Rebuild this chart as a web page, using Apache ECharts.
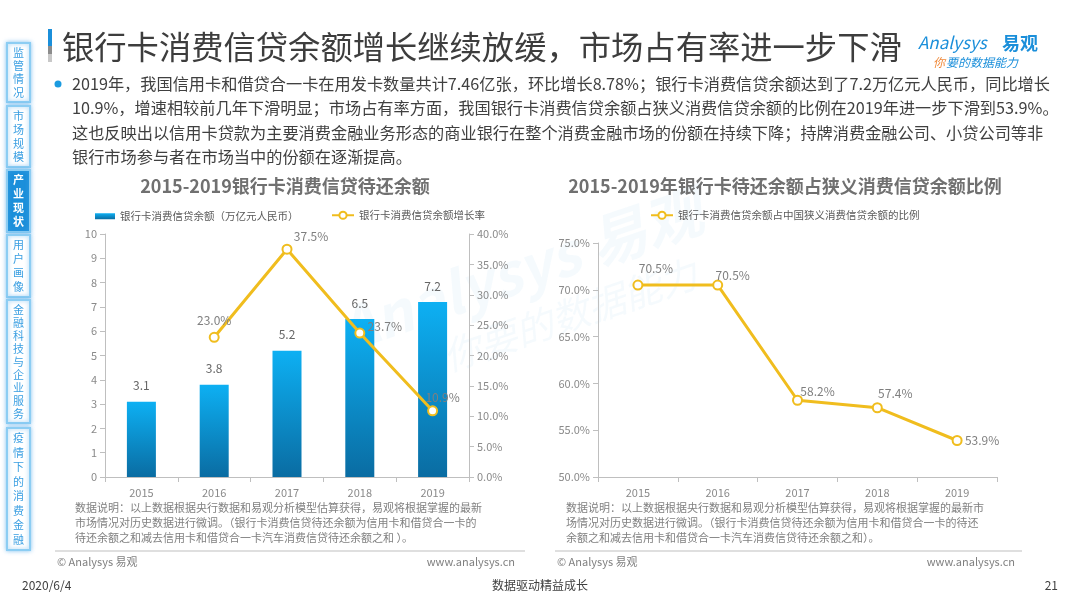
<!DOCTYPE html>
<html>
<head>
<meta charset="utf-8">
<script src="https://cdn.jsdelivr.net/npm/echarts@6/dist/echarts.min.js"></script>
<style>
html,body{margin:0;padding:0;background:#fff;}
#c{width:1080px;height:608px;}
</style>
</head>
<body>
<div id="c"></div>
<script>
// ---- data ----
const years = ['2015', '2016', '2017', '2018', '2019'];
const balance = [3.1, 3.8, 5.2, 6.5, 7.2];          // 万亿元人民币
const growth = [null, 23.0, 37.5, 23.7, 10.9];       // %
const share = [70.5, 70.5, 58.2, 57.4, 53.9];        // %

const leftTitle = '2015-2019银行卡消费信贷待还余额';
const rightTitle = '2015-2019年银行卡待还余额占狭义消费信贷余额比例';
const barName = '银行卡消费信贷余额（万亿元人民币）';
const growthName = '银行卡消费信贷余额增长率';
const shareName = '银行卡消费信贷余额占中国狭义消费信贷余额的比例';

const pageTitle = '银行卡消费信贷余额增长继续放缓，市场占有率进一步下滑';
const paragraph = [
  '2019年，我国信用卡和借贷合一卡在用发卡数量共计7.46亿张，环比增长8.78%；银行卡消费信贷余额达到了7.2万亿元人民币，同比增长',
  '10.9%，增速相较前几年下滑明显；市场占有率方面，我国银行卡消费信贷余额占狭义消费信贷余额的比例在2019年进一步下滑到53.9%。',
  '这也反映出以信用卡贷款为主要消费金融业务形态的商业银行在整个消费金融市场的份额在持续下降；持牌消费金融公司、小贷公司等非',
  '银行市场参与者在市场当中的份额在逐渐提高。'
];
const leftNote = [
  '数据说明：以上数据根据央行数据和易观分析模型估算获得，易观将根据掌握的最新',
  '市场情况对历史数据进行微调。（银行卡消费信贷待还余额为信用卡和借贷合一卡的',
  '待还余额之和减去信用卡和借贷合一卡汽车消费信贷待还余额之和 ）。'
];
const rightNote = [
  '数据说明：以上数据根据央行数据和易观分析模型估算获得，易观将根据掌握的最新市',
  '场情况对历史数据进行微调。（银行卡消费信贷待还余额为信用卡和借贷合一卡的待还',
  '余额之和减去信用卡和借贷合一卡汽车消费信贷待还余额之和）。'
];
const tabs = ['监管情况', '市场规模', '产业现状', '用户画像', '金融科技与企业服务', '疫情下的消费金融'];
const activeTab = 2;

// ---- styles (kept separate from data) ----
const FONT = "'Noto Sans CJK SC', 'Noto Sans', sans-serif";
const YELLOW = '#F0BD1E';
const growthLabelOffsets = [[0, 0], [0, 0], [24, 4], [25, 10], [10, 3]];
const shareLabelOffsets = [[18, 0], [15, 7], [20, 8], [18, 2], [25, 16]];
const tabBoxes = [[43, 102], [106, 167], [170, 232], [235, 297], [300, 423], [428, 550]];

const chart = echarts.init(document.getElementById('c'), null, {renderer: 'canvas'});

const graphics = [];
// watermark
graphics.push({type: 'text', z: -10, x: 520, y: 270, rotation: 0.33,
  style: {text: 'Analysys 易观', font: 'italic bold 58px ' + FONT, fill: 'rgba(110,185,230,0.07)', textAlign: 'center', textVerticalAlign: 'middle'}});
graphics.push({type: 'text', z: -10, x: 570, y: 315, rotation: 0.33,
  style: {text: '你要的数据能力', font: 'italic 38px ' + FONT, fill: 'rgba(110,185,230,0.07)', textAlign: 'center', textVerticalAlign: 'middle'}});

// sidebar tabs
tabs.forEach((t, i) => {
  const [y0, y1] = tabBoxes[i];
  const active = i === activeTab;
  graphics.push({type: 'rect', shape: {x: 7, y: y0, width: 23, height: y1 - y0},
    style: {fill: active ? '#1B8FDA' : '#ffffff', stroke: '#8CCDF3', lineWidth: 2, shadowBlur: 4, shadowColor: 'rgba(80,170,235,0.6)'}});
  const chars = t.split('');
  const lh = (y1 - y0 - 6) / chars.length;
  graphics.push({type: 'text', x: 18.5, y: (y0 + y1) / 2,
    style: {text: chars.join('\n'), font: (active ? 'bold ' : '') + '11px ' + FONT, lineHeight: lh,
      fill: active ? '#ffffff' : '#3A9FE2', textAlign: 'center', textVerticalAlign: 'middle'}});
});

// title bar
graphics.push({type: 'rect', shape: {x: 48, y: 29, width: 4, height: 17}, style: {fill: '#1B8FDA'}});
graphics.push({type: 'rect', shape: {x: 48, y: 46, width: 4, height: 8}, style: {fill: '#8c8c8c'}});
graphics.push({type: 'rect', shape: {x: 48, y: 54, width: 4, height: 8}, style: {fill: '#c8c8c8'}});
graphics.push({type: 'text', x: 62, y: 47,
  style: {text: pageTitle, font: '32.3px ' + FONT, fill: '#3d3d3d', textAlign: 'left', textVerticalAlign: 'middle'}});

// logo
graphics.push({type: 'text', x: 918, y: 43,
  style: {text: 'Analysys', font: 'italic 17px ' + FONT, fill: '#1B8FDA', textAlign: 'left', textVerticalAlign: 'middle'}});
graphics.push({type: 'text', x: 1002, y: 43,
  style: {text: '易观', font: 'bold 18px ' + FONT, fill: '#1B8FDA', textAlign: 'left', textVerticalAlign: 'middle'}});
graphics.push({type: 'text', x: 933, y: 62,
  style: {text: '你', font: 'italic 12px ' + FONT, fill: '#F08A3C', textAlign: 'left', textVerticalAlign: 'middle'}});
graphics.push({type: 'text', x: 946, y: 62,
  style: {text: '要的数据能力', font: 'italic 12px ' + FONT, fill: '#1B8FDA', textAlign: 'left', textVerticalAlign: 'middle'}});

// paragraph
graphics.push({type: 'circle', shape: {cx: 58, cy: 84, r: 3.5}, style: {fill: '#1B9BE0'}});
paragraph.forEach((line, i) => {
  graphics.push({type: 'text', x: 72, y: 84 + i * 24.3,
    style: {text: line, font: '16.2px ' + FONT, fill: '#404040', textAlign: 'left', textVerticalAlign: 'middle'}});
});

// chart titles
graphics.push({type: 'text', x: 285, y: 186,
  style: {text: leftTitle, font: 'bold 18px ' + FONT, fill: '#707070', textAlign: 'center', textVerticalAlign: 'middle'}});
graphics.push({type: 'text', x: 785, y: 186,
  style: {text: rightTitle, font: 'bold 18px ' + FONT, fill: '#707070', textAlign: 'center', textVerticalAlign: 'middle'}});

// notes
leftNote.forEach((line, i) => {
  graphics.push({type: 'text', x: 75, y: 508 + i * 15,
    style: {text: line, font: '11px ' + FONT, fill: '#808080', textAlign: 'left', textVerticalAlign: 'middle'}});
});
rightNote.forEach((line, i) => {
  graphics.push({type: 'text', x: 566, y: 508 + i * 15,
    style: {text: line, font: '11px ' + FONT, fill: '#808080', textAlign: 'left', textVerticalAlign: 'middle'}});
});

// separators & footers
graphics.push({type: 'line', shape: {x1: 55, y1: 551, x2: 525, y2: 551}, style: {stroke: '#d4d4d4', lineWidth: 1.5}});
graphics.push({type: 'line', shape: {x1: 555, y1: 551, x2: 1022, y2: 551}, style: {stroke: '#d4d4d4', lineWidth: 1.5}});
[[57, 515], [557, 1015]].forEach(([l, r]) => {
  graphics.push({type: 'text', x: l, y: 562,
    style: {text: '© Analysys 易观', font: '11px ' + FONT, fill: '#808080', textAlign: 'left', textVerticalAlign: 'middle'}});
  graphics.push({type: 'text', x: r, y: 562,
    style: {text: 'www.analysys.cn', font: '11px ' + FONT, fill: '#808080', textAlign: 'right', textVerticalAlign: 'middle'}});
});
graphics.push({type: 'text', x: 22, y: 585,
  style: {text: '2020/6/4', font: '12px ' + FONT, fill: '#404040', textAlign: 'left', textVerticalAlign: 'middle'}});
graphics.push({type: 'text', x: 540, y: 585,
  style: {text: '数据驱动精益成长', font: '12px ' + FONT, fill: '#404040', textAlign: 'center', textVerticalAlign: 'middle'}});
graphics.push({type: 'text', x: 1058, y: 585,
  style: {text: '21', font: '12px ' + FONT, fill: '#404040', textAlign: 'right', textVerticalAlign: 'middle'}});

const axisGray = '#BFBFBF';
const labelGray = '#8a8a8a';
function catAxis(gi) {
  return {type: 'category', gridIndex: gi, data: years,
    axisLine: {show: true, lineStyle: {color: axisGray}},
    axisTick: {show: true, length: 5, lineStyle: {color: axisGray}},
    axisLabel: {color: labelGray, fontSize: 11, fontFamily: FONT, margin: 10}};
}
function valAxis(gi, min, max, interval, fmt, pos) {
  return {type: 'value', gridIndex: gi, min: min, max: max, interval: interval, position: pos,
    axisLine: {show: true, lineStyle: {color: axisGray}},
    axisTick: {show: true, length: 5, lineStyle: {color: axisGray}},
    splitLine: {show: false},
    axisLabel: {color: labelGray, fontSize: 11, fontFamily: FONT, margin: 8, formatter: fmt}};
}
const pct = v => v.toFixed(1) + '%';

const option = {
  animation: false,
  backgroundColor: '#ffffff',
  textStyle: {fontFamily: FONT},
  graphic: {elements: graphics},
  legend: [
    {data: [barName], left: 90, top: 206, icon: 'rect', itemWidth: 20, itemHeight: 6, itemGap: 10,
      textStyle: {fontSize: 10.5, color: '#595959', fontFamily: FONT}},
    {data: [growthName], left: 326, top: 205, itemWidth: 22, itemHeight: 9,
      textStyle: {fontSize: 10.5, color: '#595959', fontFamily: FONT}},
    {data: [shareName], left: 645, top: 205, itemWidth: 22, itemHeight: 9,
      textStyle: {fontSize: 10.5, color: '#595959', fontFamily: FONT}}
  ],
  grid: [
    {left: 105, right: 611, top: 234, bottom: 131},
    {left: 598, right: 83, top: 243, bottom: 131}
  ],
  xAxis: [catAxis(0), catAxis(1)],
  yAxis: [
    valAxis(0, 0, 10, 1, v => String(v), 'left'),
    valAxis(0, 0, 40, 5, pct, 'right'),
    valAxis(1, 50, 75, 5, pct, 'left')
  ],
  series: [
    {name: barName, type: 'bar', xAxisIndex: 0, yAxisIndex: 0, barWidth: 29, data: balance,
      itemStyle: {color: new echarts.graphic.LinearGradient(0, 0, 0, 1, [
        {offset: 0, color: '#0DB0F3'}, {offset: 1, color: '#0A6CA2'}])},
      label: {show: true, position: 'top', distance: 10, color: '#666666', fontSize: 12, fontFamily: FONT,
        formatter: p => p.value.toFixed(1)}},
    {name: growthName, type: 'line', xAxisIndex: 0, yAxisIndex: 1, z: 5,
      data: growth.map((v, i) => ({value: v === null ? '-' : v,
        label: {offset: growthLabelOffsets[i]}})),
      symbol: 'circle', symbolSize: 9, showAllSymbol: true,
      lineStyle: {color: YELLOW, width: 3},
      itemStyle: {color: '#ffffff', borderColor: YELLOW, borderWidth: 2},
      label: {show: true, position: 'top', color: '#7f7f7f', fontSize: 12, fontFamily: FONT,
        formatter: p => pct(p.value)}},
    {name: shareName, type: 'line', xAxisIndex: 1, yAxisIndex: 2, z: 5,
      data: share.map((v, i) => ({value: v, label: {offset: shareLabelOffsets[i]}})),
      symbol: 'circle', symbolSize: 9,
      lineStyle: {color: YELLOW, width: 3},
      itemStyle: {color: '#ffffff', borderColor: YELLOW, borderWidth: 2},
      label: {show: true, position: 'top', color: '#7f7f7f', fontSize: 12, fontFamily: FONT,
        formatter: p => pct(p.value)}}
  ]
};
chart.setOption(option);
</script>
</body>
</html>
